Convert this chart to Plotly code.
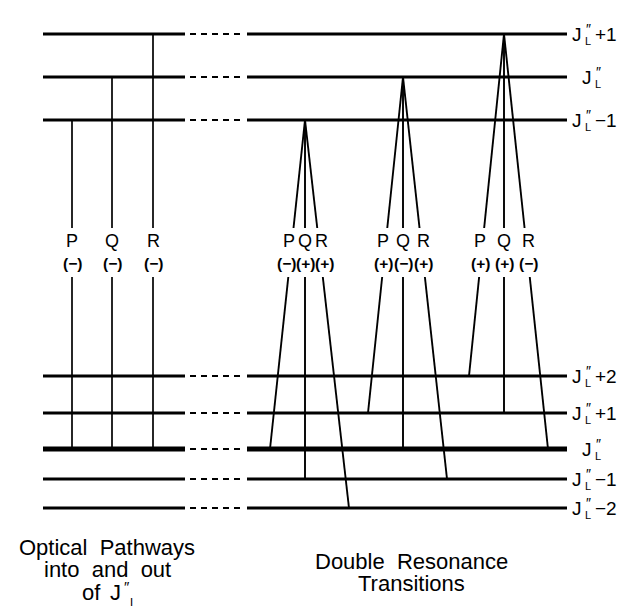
import plotly.graph_objects as go

# ---------------- data ----------------
upper_levels = [1, 0, -1]            # J''_L + n  (upper manifold)
lower_levels = [2, 1, 0, -1, -2]     # J''_L + n  (lower manifold)
branches = ["P", "Q", "R"]
branch_delta = {"P": 1, "Q": 0, "R": -1}      # lower J = upper J + delta
optical_parity = ["−", "−", "−"]
dr_upper_levels = [-1, 0, 1]
dr_parity = [["−", "+", "+"], ["+", "−", "+"], ["+", "+", "−"]]
caption_left = ["Optical  Pathways", "into  and  out"]
caption_right = ["Double  Resonance", "Transitions"]

# ---------------- layout (pixel scale) ----------------
W, H = 627, 606
PAGE_MARGIN = 8   # default body margin of the html page
y_up = {1: 34, 0: 77, -1: 120}
y_lo = {2: 376, 1: 413, 0: 449, -1: 479, -2: 508}
left_seg = (43, 185)
dash_seg = (190, 245)
right_seg = (247, 567)
opt_x = {"P": 72, "Q": 112, "R": 153}
dr_apex_x = {-1: 305, 0: 403, 1: 504}
dr_foot_dx = {"P": -35, "Q": 0, "R": 44}
gap = (228, 277)
label_y, sign_y = 241, 263
SIGN_MIN_SEP = 19
FONT = "Liberation Sans, Arial, sans-serif"

fig = go.Figure()

def add_lines(xs, ys, width, dash="solid"):
    fig.add_trace(go.Scatter(x=xs, y=ys, mode="lines",
                             line=dict(color="black", width=width, dash=dash),
                             hoverinfo="skip", showlegend=False))

# energy levels
for lv in upper_levels:
    y = y_up[lv]
    add_lines([left_seg[0], left_seg[1], None, right_seg[0], right_seg[1]], [y, y, None, y, y], 2.8)
    add_lines([dash_seg[0], dash_seg[1]], [y, y], 2.2, dash="6px,5px")
for lv in lower_levels:
    y = y_lo[lv]
    w = 4.8 if lv == 0 else 2.8
    add_lines([left_seg[0], left_seg[1], None, right_seg[0], right_seg[1]], [y, y, None, y, y], w)
    add_lines([dash_seg[0], dash_seg[1]], [y, y], 2.2, dash="6px,5px")

def seg_with_gap(x0, y0, x1, y1):
    def xat(y):
        return x0 + (x1 - x0) * (y - y0) / (y1 - y0)
    return ([x0, xat(gap[0]), None, xat(gap[1]), x1],
            [y0, gap[0], None, gap[1], y1], xat(label_y), xat(sign_y))

def ann(x, y, text, size, bold=False, xanchor="center", yanchor="middle"):
    fig.add_annotation(x=x, y=y, text=("<b>%s</b>" % text) if bold else text,
                       showarrow=False, xanchor=xanchor, yanchor=yanchor,
                       font=dict(family=FONT, size=size, color="black"))

# optical pathways (lower J''_L -> upper J''_L -1, 0, +1)
for b, par in zip(branches, optical_parity):
    up = 0 - branch_delta[b]
    xs, ys, lx, sx = seg_with_gap(opt_x[b], y_up[up], opt_x[b], y_lo[0])
    add_lines(xs, ys, 1.7)
    ann(lx, label_y, b, 18)
    ann(sx, sign_y, "(%s)" % par, 15.5, bold=True)

# double resonance transitions
for up, pars in zip(dr_upper_levels, dr_parity):
    label_pos = {}
    for b in branches:
        lo = up + branch_delta[b]
        x0 = dr_apex_x[up]
        x1 = x0 + dr_foot_dx[b]
        xs, ys, lx, sx = seg_with_gap(x0, y_up[up], x1, y_lo[lo])
        add_lines(xs, ys, 1.9)
        label_pos[b] = (lx, sx)
    sq = label_pos["Q"][1]
    sign_x = {"P": min(label_pos["P"][1], sq - SIGN_MIN_SEP),
              "Q": sq,
              "R": max(label_pos["R"][1], sq + SIGN_MIN_SEP)}
    for b, par in zip(branches, pars):
        spread = {"P": -3, "Q": 0, "R": 3}[b]
        ann(label_pos[b][0] + spread, label_y, b, 18)
        ann(sign_x[b], sign_y, "(%s)" % par, 15.5, bold=True)

# level labels
def level_label(n, y):
    jx = 587 if n == 0 else 577
    ann(jx, y, "J", 19)
    ann(jx + 11, y - 5, "″", 14)
    ann(jx + 11, y + 7, "L", 11)
    if n != 0:
        suffix = ("+%d" % n) if n > 0 else ("−%d" % (-n))
        ann(jx + 16, y, suffix, 19, xanchor="left")

for lv in upper_levels:
    level_label(lv, y_up[lv])
for lv in lower_levels:
    level_label(lv, y_lo[lv])

# captions
for i, t in enumerate(caption_left):
    ann(107, 547 + 22 * i, t, 22)
ann(91, 592, "of", 22)
ann(115, 592, "J", 22)
ann(127, 586, "″", 15)
ann(133, 603, "L", 12)
for i, t in enumerate(caption_right):
    ann(411, 561 + 22 * i, t, 22)

fig.update_layout(
    width=W - PAGE_MARGIN, height=H - PAGE_MARGIN,
    margin=dict(l=0, r=0, t=0, b=0),
    paper_bgcolor="white", plot_bgcolor="white",
    xaxis=dict(range=[PAGE_MARGIN, W], visible=False, fixedrange=True),
    yaxis=dict(range=[H, PAGE_MARGIN], visible=False, fixedrange=True),
)
fig.write_html("out.html")
